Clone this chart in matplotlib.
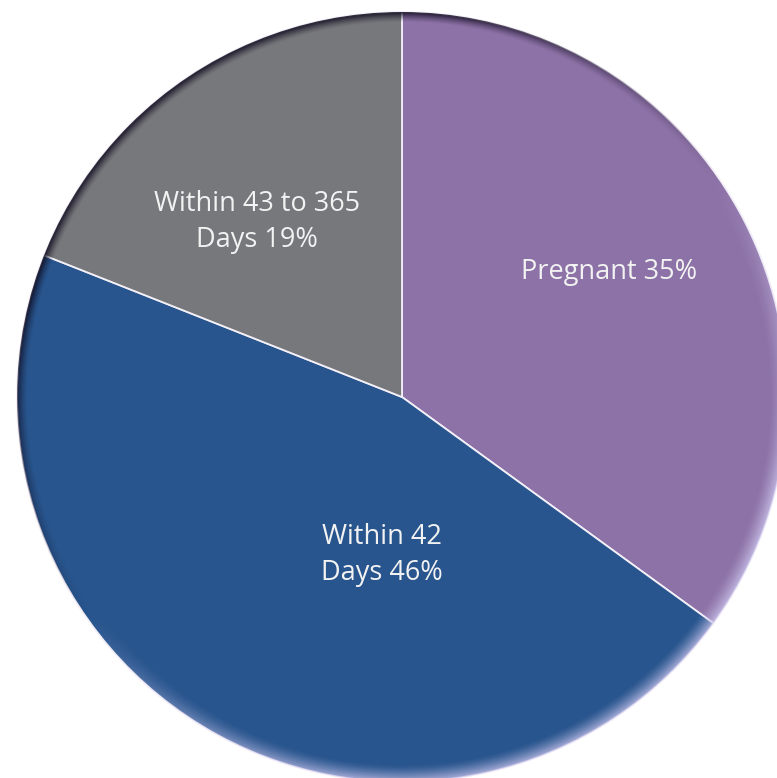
import numpy as np
import matplotlib
matplotlib.use("Agg")
import matplotlib.pyplot as plt
from matplotlib.patches import Circle

# share of cases by timing
categories = ["Pregnant", "Within 42 Days", "Within 43 to 365 Days"]
shares = [35, 46, 19]
label_text = ["Pregnant 35%", "Within 42\nDays 46%", "Within 43 to 365\nDays 19%"]
colors = ["#8D72A7", "#28558D", "#77787C"]

W, H = 777, 778
fig = plt.figure(figsize=(W / 100, H / 100), dpi=100)
ax = fig.add_axes([0, 0, 1, 1])

cx, cy, R = 402, H - 397, 385
wedges, _ = ax.pie(shares, colors=colors, startangle=90, counterclock=False,
                   center=(cx, cy), radius=R,
                   wedgeprops=dict(edgecolor="#F4F0F8", linewidth=1.3))

# bevel along the rim: dark on the upper left, pale on the lower right
yy, xx = np.mgrid[cy + R:cy - R:-1, cx - R:cx + R]
dx, dy = xx - cx, yy - cy
r = np.hypot(dx, dy)
theta = np.arctan2(dy, dx)
light = np.cos(theta - np.deg2rad(125))
shade = np.zeros(r.shape + (4,))
dark = light > 0
width = np.where(dark, 10.0, 18.0)
edge = np.clip((r - (R - width)) / width, 0, 1) ** 1.4
shade[..., :3] = np.where(dark[..., None], [0.06, 0.04, 0.12], [0.80, 0.78, 0.93])
shade[..., 3] = edge * np.clip(np.abs(light) * 1.3, 0, 1) * 0.85
img = ax.imshow(shade, extent=(cx - R, cx + R, cy - R, cy + R), origin="upper",
                interpolation="bilinear", zorder=3)
img.set_clip_path(Circle((cx, cy), R, transform=ax.transData))

font = dict(family=["Open Sans", "DejaVu Sans"], color="#F2F2F2", fontsize=19.5,
            ha="center", va="center", linespacing=1.4, zorder=4)
label_pos = [(609, 272), (382, 555), (257, 222)]
for txt, (lx, ly) in zip(label_text, label_pos):
    ax.text(lx, H - ly, txt, **font)

ax.set_xlim(0, W)
ax.set_ylim(0, H)
ax.set_aspect("equal")
ax.axis("off")

fig.savefig("out.png", dpi=100, facecolor="white")
